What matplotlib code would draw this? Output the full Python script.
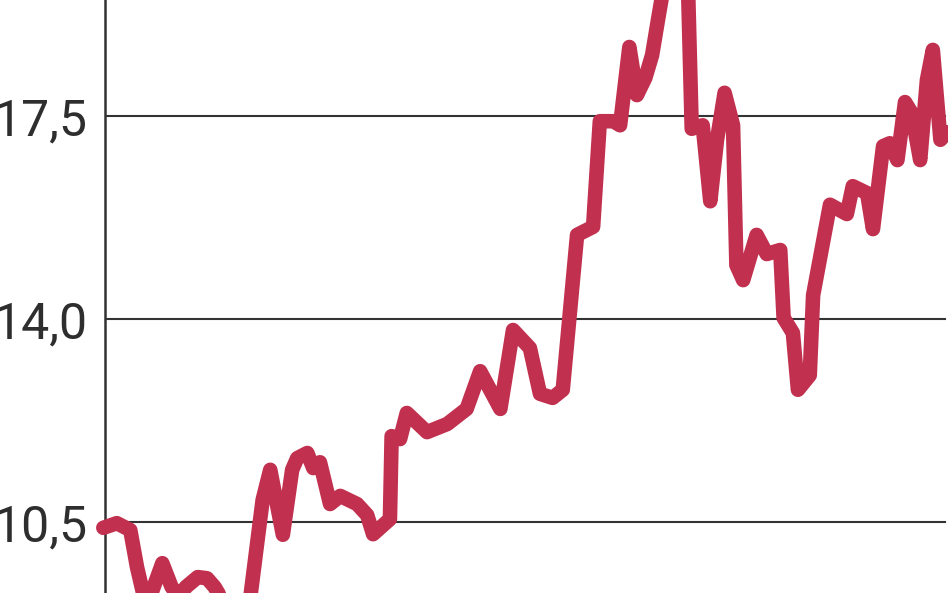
import matplotlib.pyplot as plt

# time axis (weeks, roughly) and price values
weeks = [-0.2, 1.4, 3.0, 3.8, 4.7, 5.3, 6.8, 7.9, 8.8, 9.6, 11.0, 12.1, 13.0, 13.9,
         14.8, 16.0, 17.2, 18.7, 19.6, 21.1, 22.2, 22.8, 24.0, 24.7, 25.5, 26.7,
         27.9, 29.9, 31.1, 31.8, 33.8, 34.0, 35.0, 35.8, 38.2, 40.6, 42.9, 44.5,
         46.9, 48.4, 50.4, 51.6, 53.1, 54.3, 56.0, 57.9, 58.7, 60.3, 61.1, 62.2,
         63.1, 64.1, 64.9, 65.6, 66.2, 67.6, 68.6, 69.2, 69.6, 70.9, 71.8, 72.6,
         73.5, 74.5, 74.9, 75.7, 77.3, 78.5, 80.1, 80.5, 81.6, 82.2, 83.6, 84.0,
         86.0, 88.0, 88.7, 90.4, 91.1, 92.3, 93.1, 94.0, 94.9, 95.7, 96.7, 97.5,
         98.2, 99.1, 99.9]
price = [10.40, 10.48, 10.36, 9.72, 9.16, 9.19, 9.79, 9.38, 9.22, 9.38, 9.55, 9.53,
         9.38, 9.16, 8.98, 8.95, 9.16, 10.88, 11.40, 10.28, 11.40, 11.60, 11.69,
         11.43, 11.53, 10.81, 10.95, 10.81, 10.62, 10.29, 10.55, 11.98, 11.93,
         12.38, 12.05, 12.19, 12.45, 13.10, 12.45, 13.81, 13.50, 12.71, 12.64,
         12.78, 15.45, 15.59, 17.41, 17.41, 17.34, 18.69, 17.86, 18.16, 18.55,
         19.16, 19.67, 20.40, 20.10, 19.50, 17.28, 17.34, 16.03, 17.09, 17.90,
         17.34, 14.93, 14.67, 15.45, 15.12, 15.19, 14.02, 13.76, 12.78, 13.03,
         14.41, 15.97, 15.81, 16.29, 16.17, 15.55, 16.98, 17.03, 16.74, 17.74,
         17.55, 16.74, 18.12, 18.64, 17.09, 17.22]

grid_levels = [10.5, 14.0, 17.5]
grid_labels = ["10,5", "14,0", "17,5"]

fig = plt.figure(figsize=(9.48, 5.93), dpi=100)
ax = fig.add_axes([105 / 948, 0, 843 / 948, 1])

for lvl in grid_levels:
    ax.axhline(lvl, xmin=0, xmax=0.996, color="#333333", linewidth=1.5, zorder=1)

ax.plot(weeks, price, color="#c2304f", linewidth=10.5, solid_joinstyle="round",
        solid_capstyle="round", clip_on=False, zorder=3)

ax.set_xlim(0, 100)
ax.set_ylim(9.276, 19.5)
ax.set_xticks([])
ax.set_yticks(grid_levels)
ax.set_yticklabels(grid_labels, family=["Roboto", "DejaVu Sans"], fontweight="normal",
                   fontsize=36, color="#2e2e2e")
ax.tick_params(axis="y", length=0, pad=12)

for side in ["top", "right", "bottom"]:
    ax.spines[side].set_visible(False)
ax.spines["left"].set_color("#333333")
ax.spines["left"].set_linewidth(1.8)
ax.spines["left"].set_zorder(2)

fig.savefig("out.png", dpi=100)
